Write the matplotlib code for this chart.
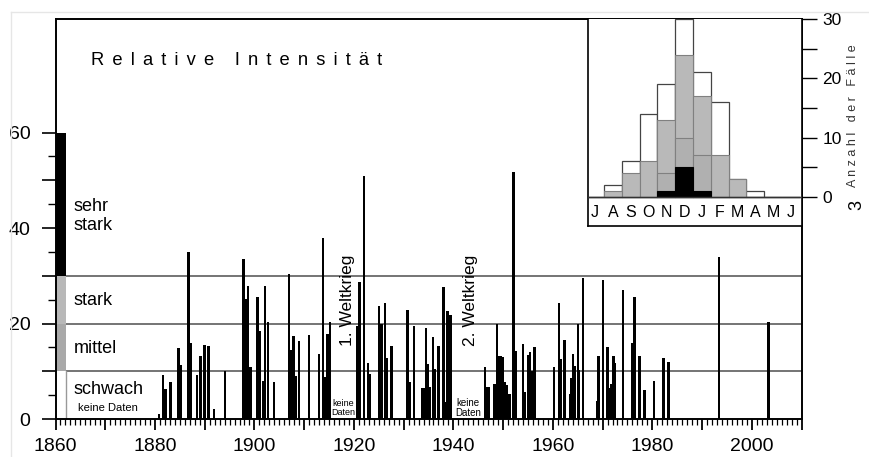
import matplotlib.pyplot as plt
from matplotlib.ticker import MultipleLocator, FuncFormatter
from matplotlib.lines import Line2D

plt.rcParams['font.family'] = ['Liberation Sans', 'DejaVu Sans']

# events: date (decimal year) and relative intensity
years = [1880.8, 1881.6, 1882.1, 1883.1, 1884.7, 1885.1, 1886.7, 1887.2, 1888.5, 1889.2,
         1890.0, 1890.8, 1891.9, 1894.1, 1897.8, 1898.2, 1898.7, 1899.2, 1900.6, 1901.0,
         1901.7, 1902.1, 1902.7, 1903.9, 1907.0, 1907.5, 1907.9, 1908.3, 1909.0, 1911.0,
         1913.0, 1913.8, 1914.2, 1914.7, 1915.2, 1920.7, 1921.1, 1922.0, 1922.8, 1923.2,
         1925.0, 1925.3, 1925.7, 1926.3, 1926.7, 1927.6, 1930.8, 1931.2, 1932.1, 1933.8,
         1934.1, 1934.5, 1934.9, 1935.3, 1935.9, 1936.2, 1937.0, 1938.0, 1938.3, 1938.8,
         1939.4, 1946.4, 1946.8, 1947.2, 1948.3, 1948.8, 1949.2, 1949.6, 1950.0, 1950.4,
         1950.8, 1951.3, 1952.1, 1952.5, 1954.0, 1954.4, 1955.0, 1955.4, 1955.7, 1956.3,
         1960.2, 1961.2, 1961.5, 1962.3, 1963.6, 1963.8, 1964.1, 1964.5, 1965.1, 1965.3,
         1966.1, 1968.9, 1969.2, 1970.1, 1971.0, 1971.3, 1971.7, 1972.2, 1972.5, 1974.1,
         1975.9, 1976.4, 1977.4, 1978.4, 1980.3, 1982.3, 1983.3, 1993.4, 2003.4]

intensity = [1.0, 9.2, 6.3, 7.7, 14.8, 11.4, 35.0, 16.0, 9.3, 13.3,
             15.4, 15.3, 2.0, 10.0, 33.5, 25.1, 27.9, 10.9, 25.6, 18.5,
             8.0, 27.8, 20.4, 7.8, 30.3, 14.4, 17.3, 9.0, 16.3, 17.6,
             13.7, 38.0, 8.9, 17.9, 20.4, 19.4, 28.8, 51.0, 11.7, 9.5,
             23.6, 20.0, 20.0, 24.4, 12.7, 15.2, 22.9, 7.7, 19.4, 6.4,
             6.4, 19.0, 11.5, 6.7, 17.1, 10.4, 15.3, 27.6, 3.6, 22.7,
             21.7, 10.9, 6.7, 6.7, 7.4, 19.8, 13.3, 13.1, 13.0, 7.8,
             7.1, 5.3, 51.7, 14.3, 15.8, 5.7, 13.5, 14.0, 10.0, 15.0,
             10.9, 24.4, 12.6, 16.5, 5.2, 8.5, 13.7, 11.0, 19.9, 10.2,
             29.5, 3.7, 13.3, 29.1, 15.1, 6.4, 7.4, 13.1, 11.7, 27.1,
             15.9, 25.6, 13.3, 6.0, 8.0, 12.8, 11.9, 34.0, 20.4]

# intensity classes (lower, upper bound) shown as key bar at the left
class_names = ['schwach', 'mittel', 'stark', 'sehr\nstark']
class_low = [0, 10, 20, 30]
class_high = [10, 20, 30, 60]
class_colors = ['white', '#a9a9a9', '#b8b8b8', 'black']

# monthly histogram (July .. June)
months = ['J', 'A', 'S', 'O', 'N', 'D', 'J', 'F', 'M', 'A', 'M', 'J']
n_total = [0, 2, 6, 14, 19, 30, 21, 16, 3, 1, 0, 0]
n_mittel = [0, 1, 4, 6, 13, 24, 17, 7, 3, 0, 0, 0]
n_stark = [0, 0, 0, 0, 4, 10, 7, 0, 0, 0, 0, 0]
n_sehr = [0, 0, 0, 0, 1, 5, 1, 0, 0, 0, 0, 0]

W, H = 869, 457
fig = plt.figure(figsize=(W / 100, H / 100), dpi=100)
fig.patch.set_facecolor('white')

# faint frame of the scanned panel
fig.add_artist(Line2D([11 / W, 11 / W], [0, 1 - 12 / H], color='#e6e6e6', lw=1))
fig.add_artist(Line2D([11 / W, 1], [1 - 12 / H, 1 - 12 / H], color='#e6e6e6', lw=1))

ax = fig.add_axes([55.5 / W, 1 - 419 / H, (801.5 - 55.5) / W, (419 - 19) / H])
ax.set_xlim(1860, 2010)
ax.set_ylim(0, 83.8)

for lvl in [10, 20, 30]:
    ax.axhline(lvl, color='#747474', lw=1.4, zorder=1)

ax.bar(years, intensity, width=0.5, color='black', zorder=3)

# key bar
for lo, hi, c in zip(class_low, class_high, class_colors):
    ax.bar(1860, hi - lo, bottom=lo, width=2.2, align='edge', color=c, lw=0, zorder=2)
ax.plot([1862.2, 1862.2], [0, 10], color='#999999', lw=1, zorder=2)

label_y = [6.2, 14.8, 24.8, 42.5]
for name, ly in zip(class_names, label_y):
    ax.text(1863.6, ly, name, fontsize=13, va='center', ha='left', zorder=4)
ax.text(1864.5, 2.3, 'keine Daten', fontsize=8, va='center', ha='left')

ax.text(1917.8, 2.4, 'keine\nDaten', fontsize=6.5, va='center', ha='center', linespacing=1.0)
ax.text(1943.0, 2.4, 'keine\nDaten', fontsize=7, va='center', ha='center', linespacing=1.0)
ax.text(1918.8, 24.8, '1. Weltkrieg', fontsize=12.5, rotation=90, va='center', ha='center')
ax.text(1943.4, 24.8, '2. Weltkrieg', fontsize=12.5, rotation=90, va='center', ha='center')

# letter-spaced title
title = 'Relative Intensität'
spaced = ' \u2006'.join(title).replace(' \u2006  \u2006', '    ')
ax.text(1867.2, 75.2, spaced, fontsize=13.2, va='center', ha='left')

for side in ['left', 'right', 'top', 'bottom']:
    ax.spines[side].set_linewidth(1.4)

ax.xaxis.set_major_locator(MultipleLocator(10))
ax.xaxis.set_minor_locator(MultipleLocator(1))
ax.xaxis.set_major_formatter(FuncFormatter(lambda v, p: '%d' % v if v % 20 == 0 else ''))
ax.yaxis.set_major_formatter(FuncFormatter(lambda v, p: '%d' % v if v % 20 == 0 else ''))
ax.tick_params(axis='x', which='major', length=8, width=1.3, labelsize=14, pad=6)
ax.tick_params(axis='x', which='minor', length=4, width=0.9)
ax.tick_params(axis='y', which='major', length=10, width=1.2, labelsize=14, pad=8)
ax.tick_params(axis='y', which='minor', length=6, width=1.0)
# no ticks above 60 on the y axis
ax.set_yticks([t for t in range(0, 61, 10)])
ax.set_yticks([t for t in range(5, 60, 10)], minor=True)

# inset: seasonal distribution
ax_in = fig.add_axes([588 / W, 1 - 226 / H, (801.5 - 588) / W, (226 - 19) / H])
ax_in.set_xlim(-0.4, 11.6)
ax_in.set_ylim(-4.9, 30)
x = list(range(len(months)))
ax_in.bar(x, n_total, width=1.0, color='white', edgecolor='#444444', lw=0.9, zorder=2)
ax_in.bar(x, n_mittel, width=1.0, color='#b9b9b9', edgecolor='#808080', lw=0.8, zorder=3)
ax_in.bar(x, n_stark, width=1.0, color='#b0b0b0', edgecolor='#808080', lw=0.8, zorder=4)
ax_in.bar(x, n_sehr, width=1.0, color='black', edgecolor='black', lw=0.8, zorder=5)
ax_in.axhline(0, color='#333333', lw=1.0, zorder=6)
for i, m in enumerate(months):
    ax_in.text(i, -2.6, m, fontsize=11.5, ha='center', va='center')

ax_in.spines['top'].set_visible(False)
for side in ['left', 'right', 'bottom']:
    ax_in.spines[side].set_linewidth(1.2)
ax_in.set_xticks([])
ax_in.yaxis.tick_right()
ax_in.set_yticks([0, 10, 20, 30])
ax_in.set_yticks([5, 15, 25], minor=True)
ax_in.tick_params(axis='y', which='both', length=11, width=1.0, labelsize=12.5, pad=4)

fig.text(853 / W, 1 - 116 / H, 'A n z a h l   d e r   F ä l l e', fontsize=9,
         rotation=90, ha='center', va='center', color='#333333')
fig.text(857 / W, 1 - 205 / H, '3', fontsize=13, rotation=90, ha='center', va='center')

fig.savefig('out.png', dpi=100)
